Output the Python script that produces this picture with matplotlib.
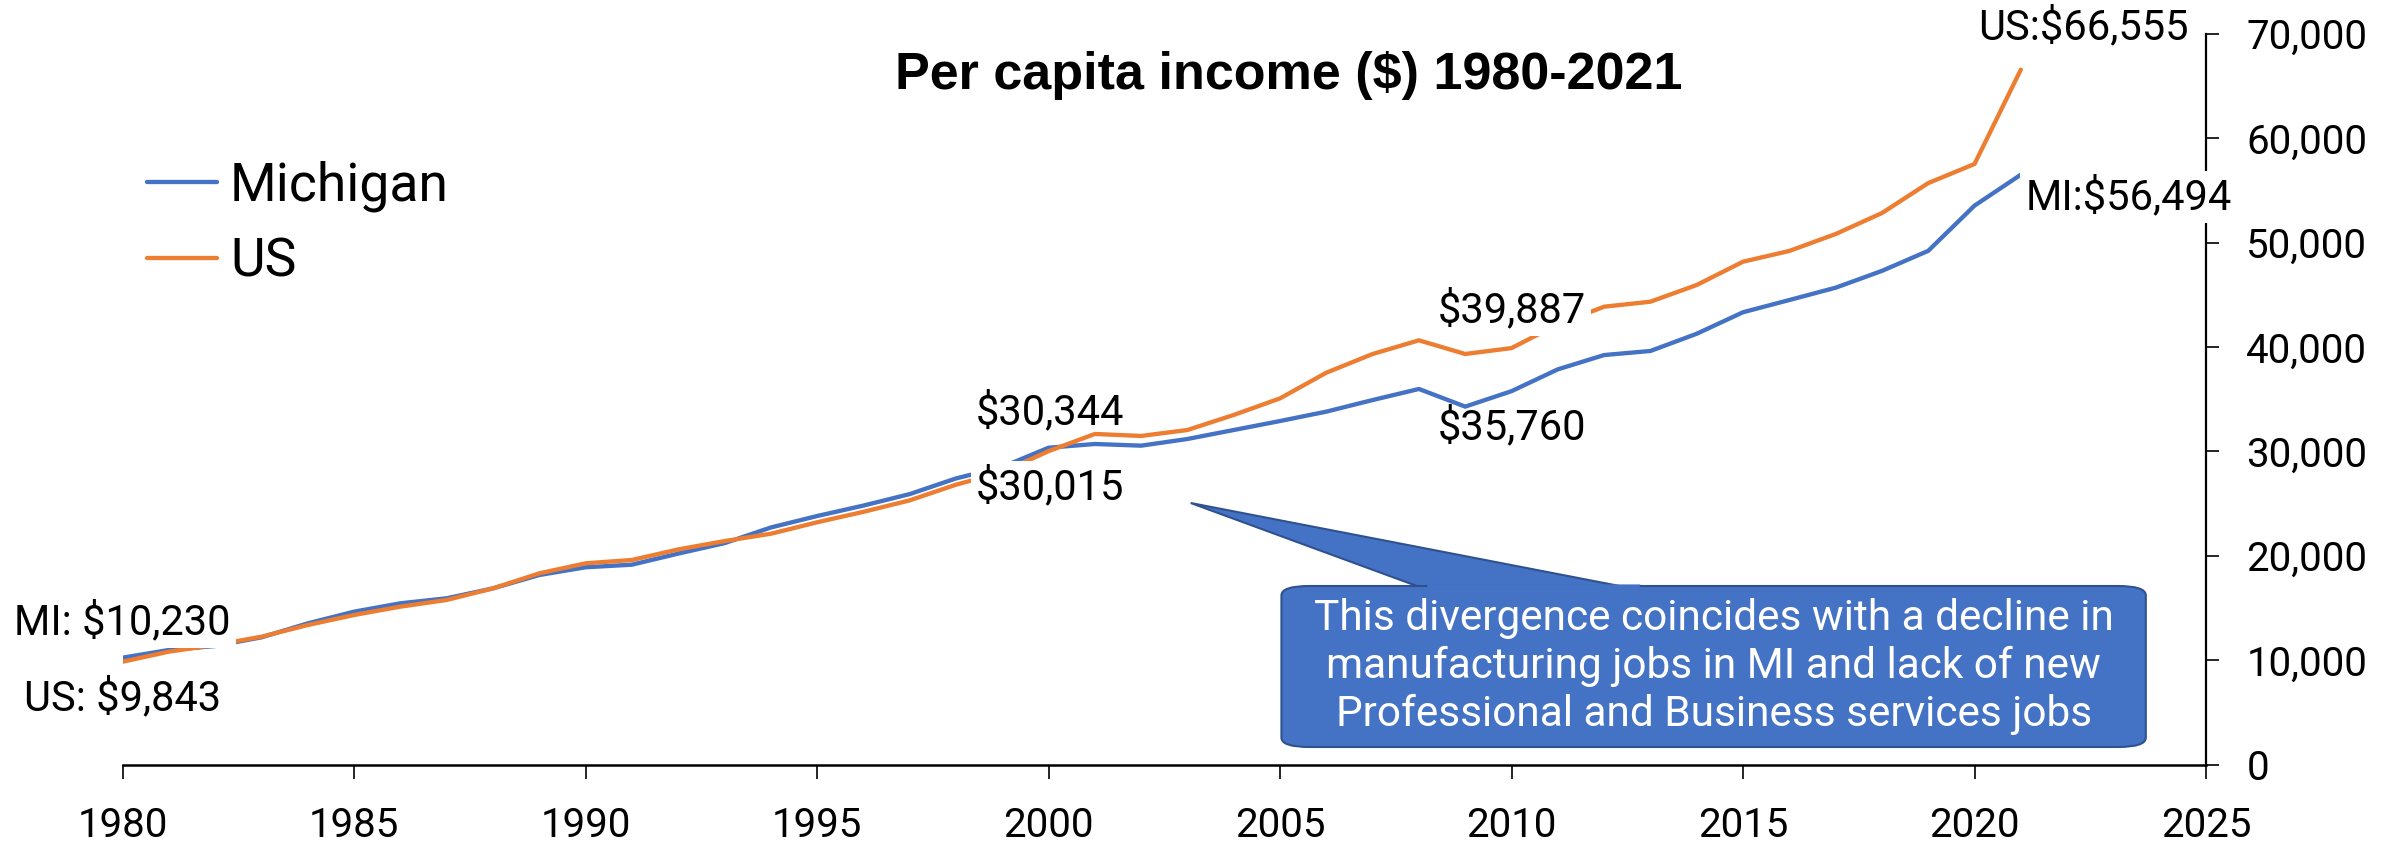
import matplotlib
matplotlib.use("Agg")
import matplotlib.pyplot as plt
from matplotlib.patches import FancyBboxPatch, Polygon
from matplotlib.ticker import FuncFormatter, MultipleLocator

plt.rcParams['font.family'] = ['Roboto', 'DejaVu Sans']

years = list(range(1980, 2022))
michigan = [10230, 10970, 11350, 12180, 13520, 14640, 15440, 15920, 16870, 18150,
            18890, 19140, 20200, 21200, 22700, 23800, 24800, 25900, 27400, 28500,
            30344, 30700, 30540, 31180, 32040, 32900, 33800, 34910, 35970, 34280,
            35760, 37850, 39220, 39610, 41260, 43320, 44490, 45670, 47280, 49200,
            53530, 56494]
us = [9843, 10810, 11450, 12240, 13360, 14320, 15120, 15760, 16870, 18310,
      19270, 19590, 20600, 21400, 22100, 23200, 24200, 25300, 26800, 28000,
      30015, 31660, 31470, 32040, 33480, 35070, 37530, 39320, 40630, 39320,
      39887, 42160, 43850, 44330, 45930, 48160, 49190, 50810, 52820, 55690,
      57520, 66555]
series_names = ["Michigan", "US"]
title = "Per capita income ($) 1980-2021"
callout = ("This divergence coincides with a decline in\n"
           "manufacturing jobs in MI and lack of new\n"
           "Professional and Business services jobs")

BLUE = "#4472C4"
ORANGE = "#ED7D31"
EDGE = "#2F528F"

fig = plt.figure(figsize=(24.02, 8.42), dpi=100)
ax = fig.add_axes([122.6 / 2402, 77.5 / 842, (2206 - 122.6) / 2402, (764.5 - 33.7) / 842])

ax.plot(years, michigan, color=BLUE, lw=3.1, label=series_names[0], zorder=2, solid_capstyle='round')
ax.plot(years, us, color=ORANGE, lw=3.1, label=series_names[1], zorder=2, solid_capstyle='round')

ax.set_xlim(1980, 2025)
ax.set_ylim(0, 70000)
ax.set_autoscale_on(False)
ax.xaxis.set_major_locator(MultipleLocator(5))
ax.yaxis.set_major_locator(MultipleLocator(10000))
ax.yaxis.set_major_formatter(FuncFormatter(lambda v, p: f"{int(v):,}"))
ax.yaxis.tick_right()
ax.spines['left'].set_visible(False)
ax.spines['top'].set_visible(False)
ax.spines['right'].set_linewidth(1.6)
ax.spines['bottom'].set_linewidth(1.8)
ax.tick_params(axis='x', direction='out', length=10, width=1.2, pad=20, labelsize=29)
ax.tick_params(axis='y', direction='out', length=9, width=1.2, pad=20, labelsize=29)

bb = dict(boxstyle='square,pad=0.12', fc='white', ec='none')
lbl_kw = dict(fontsize=30, ha='center', va='center', zorder=5, clip_on=False)
ax.text(1980.0, 13650, f"MI: ${michigan[0]:,}", bbox=bb, **lbl_kw)
ax.text(1980.0, 6370, f"US: ${us[0]:,}", **lbl_kw)
ax.text(2000.04, 33764, f"${michigan[20]:,}", **lbl_kw)
ax.text(2000.04, 26580, f"${us[20]:,}", bbox=bb, **lbl_kw)
ax.text(2010.02, 32328, f"${michigan[30]:,}", **lbl_kw)
ax.text(2010.0, 43535, f"${us[30]:,}", bbox=bb, **lbl_kw)
ax.text(2024.62, 70640, f"US:${us[-1]:,}", fontsize=30, ha='right', va='center',
        zorder=5, clip_on=False)
ax.text(2021.1, 54358, f"MI:${michigan[-1]:,}", fontsize=30, ha='left', va='center',
        zorder=5, bbox=bb, clip_on=False)

# callout box with pointer
bx0, by0, bw, bh = 2005.03, 1676, 18.67, 15422
top = by0 + bh
tip = (2003.07, 25048)
b1x, b2x = 2008.2, 2012.8
wedge = Polygon([tip, (b1x, top - 400), (b2x, top - 400)], closed=True,
                facecolor=BLUE, edgecolor=EDGE, linewidth=1.5, fill=True,
                zorder=6, clip_on=False)
ax.add_patch(wedge)
box = FancyBboxPatch((bx0, by0), bw, bh,
                     boxstyle="round,pad=0,rounding_size=0.6", mutation_aspect=1500,
                     facecolor=BLUE, edgecolor=EDGE, linewidth=1.5, zorder=7, clip_on=False)
ax.add_patch(box)
# join wedge and box (hide the box outline under the wedge base)
join = Polygon([(b1x + 0.02, top - 450), (b2x - 0.05, top - 450),
                (b2x - 0.02, top + 150), (b1x - 0.03, top + 150)],
               closed=True, facecolor=BLUE, edgecolor='none', zorder=8, clip_on=False)
ax.add_patch(join)
ax.text(bx0 + bw / 2, by0 + bh / 2, callout, color='white', fontsize=30.5, ha='center',
        va='center', linespacing=1.2, zorder=9)

fig.legend(loc='center left', bbox_to_anchor=(147 / 2402, 1 - 224 / 842),
           bbox_transform=fig.transFigure, frameon=False, fontsize=38.5,
           handlelength=1.3, handletextpad=0.25, labelspacing=0.45,
           borderpad=0, borderaxespad=0)

fig.text(1289 / 2402, 1 - 75 / 842, title, ha='center', va='center', fontsize=37.5,
         fontweight='bold', family=['Liberation Sans', 'DejaVu Sans'])

fig.savefig("out.png", dpi=100)
